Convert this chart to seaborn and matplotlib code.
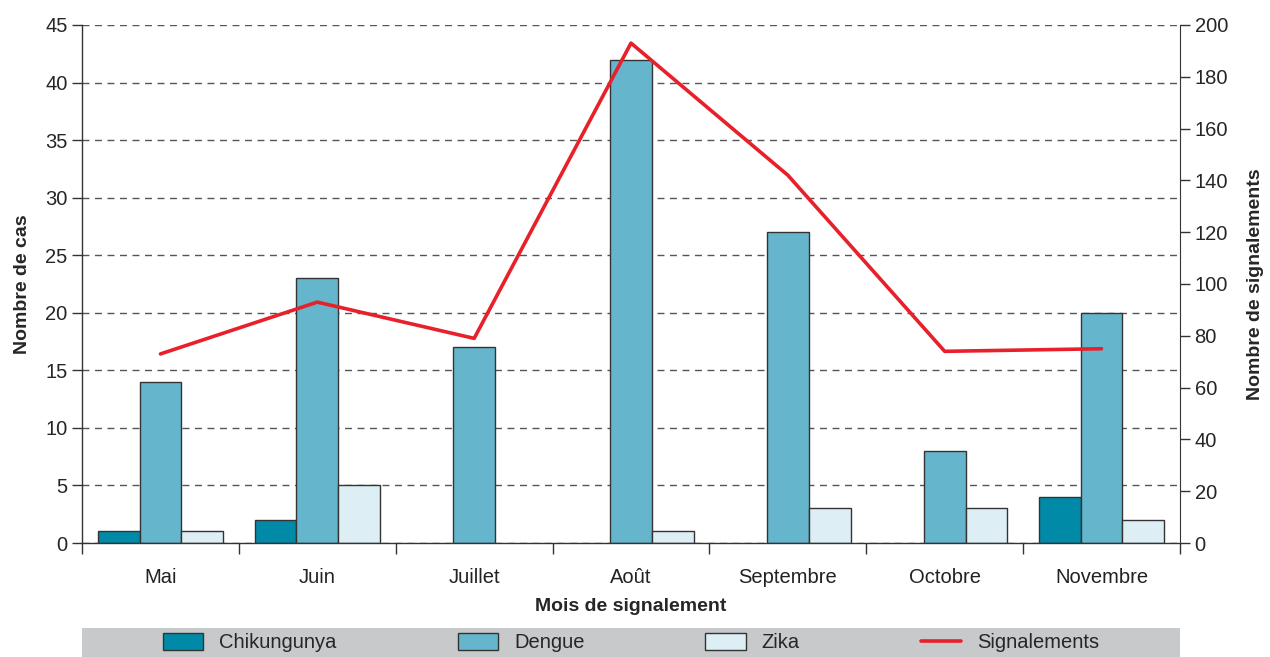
import pandas as pd
import numpy as np
import matplotlib
matplotlib.use("Agg")
import matplotlib.pyplot as plt
import seaborn as sns
from matplotlib.patches import Rectangle

mois = ["Mai", "Juin", "Juillet", "Août", "Septembre", "Octobre", "Novembre"]
chikungunya = [1, 2, 0, 0, 0, 0, 4]
dengue = [14, 23, 17, 42, 27, 8, 20]
zika = [1, 5, 0, 1, 3, 3, 2]
signalements = [73, 93, 79, 193, 142, 74, 75]

maladies = ["Chikungunya", "Dengue", "Zika"]
palette = {"Chikungunya": "#008aa8", "Dengue": "#65b6cd", "Zika": "#ddeef5"}

df = pd.DataFrame({"mois": mois * 3,
                   "maladie": np.repeat(maladies, len(mois)),
                   "cas": chikungunya + dengue + zika})
df_sig = pd.DataFrame({"mois": mois, "signalements": signalements})

sns.set_style("white")
plt.rcParams["font.family"] = ["Liberation Sans Narrow", "Liberation Sans", "DejaVu Sans"]

fig = plt.figure(figsize=(12.7, 6.57), dpi=100)
ax = fig.add_axes([0.0646, 0.1735, 0.8645, 0.7885])

sns.barplot(data=df, x="mois", y="cas", hue="maladie", order=mois,
            hue_order=maladies, palette=palette, width=0.8,
            edgecolor="#333333", linewidth=1.0, saturation=1, ax=ax)

# no outline for empty bars (only the real bars, not legend handles)
for cont in ax.containers:
    for p in cont:
        if p.get_height() == 0:
            p.set_visible(False)

ax.set_ylim(0, 45)
ax.set_yticks(range(0, 46, 5))
ax.set_xlim(-0.5, len(mois) - 0.5)
ax.set_axisbelow(True)
ax.yaxis.grid(True, color="#555555", linestyle=(0, (5, 4)), linewidth=1.0)
ax.xaxis.grid(False)

# tick marks between months
ax.set_xticks(np.arange(-0.5, len(mois), 1), minor=True)
ax.tick_params(axis="x", which="major", length=0, labelsize=14.5, pad=18, colors="#222222")
ax.tick_params(axis="x", which="minor", length=8, width=1, direction="out", color="#333333", bottom=True)
ax.tick_params(axis="y", length=7, width=1, direction="out", color="#333333", labelsize=14.5, left=True)

for s in ["left", "bottom"]:
    ax.spines[s].set_color("#333333")
    ax.spines[s].set_linewidth(1.0)
ax.spines["top"].set_visible(False)
ax.spines["right"].set_visible(False)

ax.set_xlabel("Mois de signalement", fontsize=14, fontweight="bold", labelpad=8)
ax.set_ylabel("Nombre de cas", fontsize=14, fontweight="bold", labelpad=10)

ax2 = ax.twinx()
sns.lineplot(data=df_sig, x="mois", y="signalements", color="#e8202a",
             linewidth=2.6, ax=ax2, label="Signalements", legend=False)
ax2.set_ylim(0, 200)
ax2.set_yticks(range(0, 201, 20))
ax2.set_xlim(-0.5, len(mois) - 0.5)
ax2.tick_params(axis="y", length=7, width=1, direction="out", color="#333333", labelsize=14.5, right=True)
ax2.set_ylabel("Nombre de signalements", fontsize=14, fontweight="bold", labelpad=14)
ax2.spines["right"].set_color("#333333")
ax2.spines["top"].set_visible(False)
ax2.spines["left"].set_visible(False)
ax2.spines["bottom"].set_visible(False)

h1, l1 = ax.get_legend_handles_labels()
h2, l2 = ax2.get_legend_handles_labels()
ax.get_legend().remove()

# grey legend band under the plot
fig.add_artist(Rectangle((0.0646, 0.0), 0.8645, 0.044, transform=fig.transFigure,
                         facecolor="#c8c9cb", edgecolor="none", zorder=0))
fig.legend(h1 + h2, l1 + l2, loc="center", ncol=4,
           bbox_to_anchor=(0.497, 0.022), frameon=False,
           fontsize=14.5, handlelength=2.0, handleheight=0.9,
           handletextpad=0.8, columnspacing=6.0, borderaxespad=0)

fig.savefig("out.png", dpi=100)
